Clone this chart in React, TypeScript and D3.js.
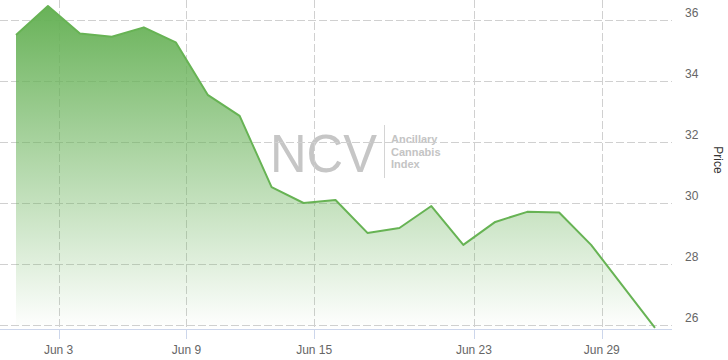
import React from "react";
import * as d3 from "d3";

const dates = [
  "2022-06-01", "2022-06-02", "2022-06-03", "2022-06-06", "2022-06-07", "2022-06-08",
  "2022-06-09", "2022-06-10", "2022-06-13", "2022-06-14", "2022-06-15", "2022-06-16",
  "2022-06-17", "2022-06-21", "2022-06-22", "2022-06-23", "2022-06-24", "2022-06-27",
  "2022-06-28", "2022-06-29", "2022-06-30",
];
const prices = [
  35.51, 36.46, 35.56, 35.45, 35.76, 35.27, 33.55, 32.86, 30.53, 30.01, 30.11, 29.03,
  29.19, 29.91, 28.64, 29.39, 29.72, 29.70, 28.64, 27.28, 25.92,
];
const tickDates = ["2022-06-03", "2022-06-09", "2022-06-15", "2022-06-23", "2022-06-29"];
const tickLabels = ["Jun 3", "Jun 9", "Jun 15", "Jun 23", "Jun 29"];
const yTicks = [26, 28, 30, 32, 34, 36];
const yExtent = [25.885, 36.655];
const watermarkLines = ["Ancillary", "Cannabis", "Index"];

const W = 728;
const H = 360;
const plotLeft = 0;
const plotRight = 672;
const plotTop = 0;
const plotBottom = 329;
const font = "'Liberation Sans', Arial, sans-serif";

export default function App() {
  const x = d3.scaleLinear().domain([0, prices.length - 1]).range([16, 655]);
  const y = d3.scaleLinear().domain(yExtent).range([plotBottom, plotTop]);
  const idx = prices.map((_, i) => i);
  const line = d3.line<number>().x((i) => x(i)).y((i) => y(prices[i]));
  const area = d3
    .area<number>()
    .x((i) => x(i))
    .y0(plotBottom)
    .y1((i) => y(prices[i]));
  // ticks at midnight, points at 16:00 close; ordinal positioning between prev and current point
  const tickPos = tickDates.map((d) => dates.indexOf(d) - 2 / 3);

  return (
    <svg
      width={W}
      height={H}
      style={{ position: "absolute", left: 0, top: 0, background: "#fff" }}
      fontFamily={font}
    >
      <defs>
        <linearGradient id="areaGrad" x1="0" y1="0" x2="0" y2="1">
          <stop offset="0" stopColor="rgb(104,178,88)" stopOpacity={1} />
          <stop offset="1" stopColor="rgb(104,178,88)" stopOpacity={0} />
        </linearGradient>
      </defs>
      <rect x={0} y={0} width={W} height={H} fill="#fff" />
      {/* watermark */}
      <g fill="#c6c6c6">
        <text x={270} y={172} fontSize={54} textLength={107} lengthAdjust="spacingAndGlyphs">
          NCV
        </text>
        <line x1={384.5} x2={384.5} y1={125} y2={178} stroke="#d4d4d4" strokeWidth={1} />
        {watermarkLines.map((t, i) => (
          <text key={t} x={391} y={143 + i * 12.5} fontSize={11} fontWeight="bold" fill="#c4c4c4">
            {t}
          </text>
        ))}
      </g>
      {/* horizontal grid */}
      {yTicks.map((t) => (
        <line
          key={t}
          x1={plotLeft}
          x2={plotRight}
          y1={Math.round(y(t)) + 0.5}
          y2={Math.round(y(t)) + 0.5}
          stroke="#d0d0d0"
          strokeDasharray="8,3"
        />
      ))}
      {/* vertical grid */}
      {tickPos.map((p, i) => (
        <line
          key={i}
          x1={Math.round(x(p)) + 0.5}
          x2={Math.round(x(p)) + 0.5}
          y1={plotTop}
          y2={plotBottom}
          stroke="#d0d0d0"
          strokeDasharray="8,3"
        />
      ))}
      <path d={area(idx) || ""} fill="url(#areaGrad)" />
      <path d={line(idx) || ""} fill="none" stroke="#67b354" strokeWidth={2} strokeLinejoin="round" />
      {/* x axis */}
      <line x1={plotLeft} x2={plotRight} y1={plotBottom + 0.5} y2={plotBottom + 0.5} stroke="#ccd6eb" />
      {tickPos.map((p, i) => (
        <g key={i}>
          <line
            x1={Math.round(x(p)) + 0.5}
            x2={Math.round(x(p)) + 0.5}
            y1={plotBottom}
            y2={plotBottom + 10}
            stroke="#ccd6eb"
          />
          <text x={x(p)} y={354} fontSize={12} fill="#666" textAnchor="middle">
            {tickLabels[i]}
          </text>
        </g>
      ))}
      {/* y axis labels */}
      {yTicks.map((t) => (
        <text key={t} x={685} y={y(t) - 3} fontSize={12} fill="#666">
          {t}
        </text>
      ))}
      <text
        transform={`translate(714,160) rotate(90)`}
        fontSize={12}
        fill="#333"
        textAnchor="middle"
      >
        Price
      </text>
    </svg>
  );
}
